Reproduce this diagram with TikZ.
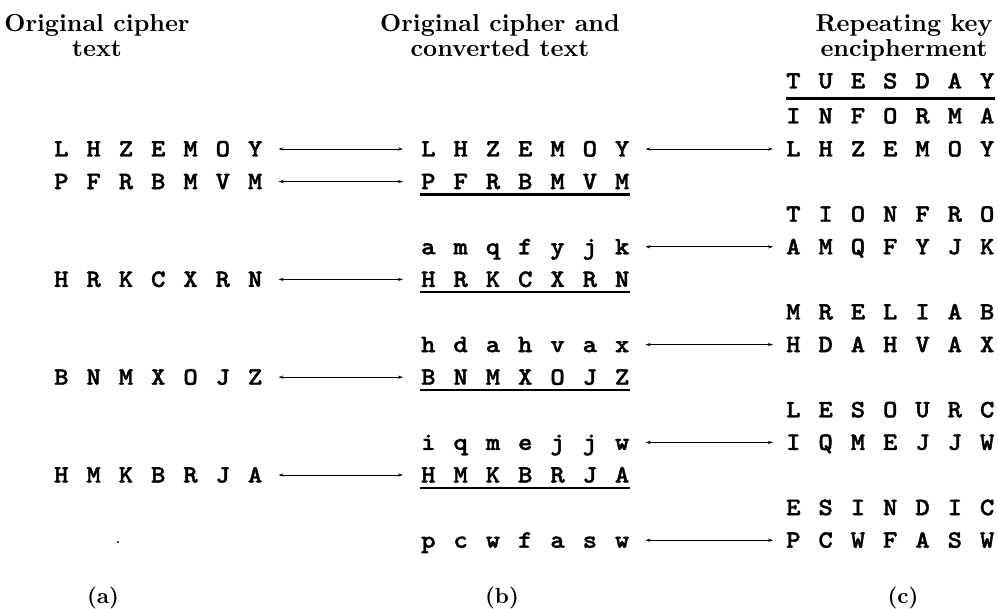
\documentclass[tikz,border=0pt]{standalone}
\usepackage{graphicx}
\usetikzlibrary{arrows.meta}
\font\twfont="[lmmonolt10-bold]:embolden=1.5;extend=1.1" at 25pt
\makeatletter
\newcommand\spc[1]{\@tfor\tmpch:=#1\do{\makebox[32.3pt]{\tmpch}}}
\makeatother
\newcommand\hd[1]{\scalebox{2.45}{\fontsize{10}{12}\selectfont\bfseries #1}}
\newcommand\lb[1]{\scalebox{2.2}{\fontsize{10}{12}\selectfont\bfseries #1}}
\tikzset{
  rowtxt/.style={inner sep=0pt, anchor=base west, font=\twfont},
  hdr/.style={inner sep=0pt, anchor=base},
  link/.style={line width=0.9pt, {Stealth[length=5pt,width=3.2pt]}-{Stealth[length=5pt,width=3.2pt]}},
  uline/.style={line width=2.2pt},
}
\begin{document}
\begin{tikzpicture}[x=1pt,y=-1pt]
\useasboundingbox (0,0) rectangle (998,609);
% headers
\node[hdr] (ha1) at (97,32) {\hd{Original cipher}};
\node[hdr] (ha2) at (97,57) {\hd{text}};
\node[hdr] (hb1) at (500,32) {\hd{Original cipher and}};
\node[hdr] (hb2) at (500,57) {\hd{converted text}};
\node[hdr] (hc1) at (904,32) {\hd{Repeating key}};
\node[hdr] (hc2) at (904,57) {\hd{encipherment}};
% column a
\node[rowtxt] (a0) at (45,156.5) {\spc{LHZEMOY}};
\node[rowtxt] (a1) at (45,189.1) {\spc{PFRBMVM}};
\node[rowtxt] (a4) at (45,286.9) {\spc{HRKCXRN}};
\node[rowtxt] (a7) at (45,384.7) {\spc{BNMXOJZ}};
\node[rowtxt] (a10) at (45,482.5) {\spc{HMKBRJA}};
% column b
\node[rowtxt] (b0) at (412,156.5) {\spc{LHZEMOY}};
\node[rowtxt] (b1) at (412,189.1) {\spc{PFRBMVM}};
\node[rowtxt] (b3) at (412,254.3) {\spc{amqfyjk}};
\node[rowtxt] (b4) at (412,286.9) {\spc{HRKCXRN}};
\node[rowtxt] (b6) at (412,352.1) {\spc{hdahvax}};
\node[rowtxt] (b7) at (412,384.7) {\spc{BNMXOJZ}};
\node[rowtxt] (b9) at (412,449.9) {\spc{iqmejjw}};
\node[rowtxt] (b10) at (412,482.5) {\spc{HMKBRJA}};
\node[rowtxt] (b12) at (412,547.7) {\spc{pcwfasw}};
% column c
\node[rowtxt] (ck) at (777,88.5) {\spc{TUESDAY}};
\node[rowtxt] (cp) at (777,123.5) {\spc{INFORMA}};
\node[rowtxt] (c0) at (777,156.5) {\spc{LHZEMOY}};
\node[rowtxt] (c2) at (777,221.7) {\spc{TIONFRO}};
\node[rowtxt] (c3) at (777,254.3) {\spc{AMQFYJK}};
\node[rowtxt] (c5) at (777,319.5) {\spc{MRELIAB}};
\node[rowtxt] (c6) at (777,352.1) {\spc{HDAHVAX}};
\node[rowtxt] (c8) at (777,417.3) {\spc{LESOURC}};
\node[rowtxt] (c9) at (777,449.9) {\spc{IQMEJJW}};
\node[rowtxt] (c11) at (777,515.1) {\spc{ESINDIC}};
\node[rowtxt] (c12) at (777,547.7) {\spc{PCWFASW}};
% underlines
\foreach \n in {b1,b4,b7,b10}{
  \draw[uline] ([shift={(8,5.5)}]\n.base west) -- ([shift={(-9,5.5)}]\n.base east);
}
\draw[uline] ([shift={(9,10)}]ck.base west) -- ([shift={(-9,10)}]ck.base east);
% arrows a <-> b
\foreach \k in {0,1,4,7,10}{
  \draw[link] ([shift={(7,-7.5)}]a\k.base east) -- ([shift={(-9,-7.5)}]b\k.base west);
}
% arrows b <-> c
\foreach \k in {0,3,6,9,12}{
  \draw[link] ([shift={(7,-7.5)}]b\k.base east) -- ([shift={(-4,-7.5)}]c\k.base west);
}
% speck
\fill (118,542) circle (1.2pt);
% labels
\node[hdr] (la) at (103,603) {\lb{(a)}};
\node[hdr] (lb) at (502,603) {\lb{(b)}};
\node[hdr] (lc) at (903,603) {\lb{(c)}};
\end{tikzpicture}
\end{document}
